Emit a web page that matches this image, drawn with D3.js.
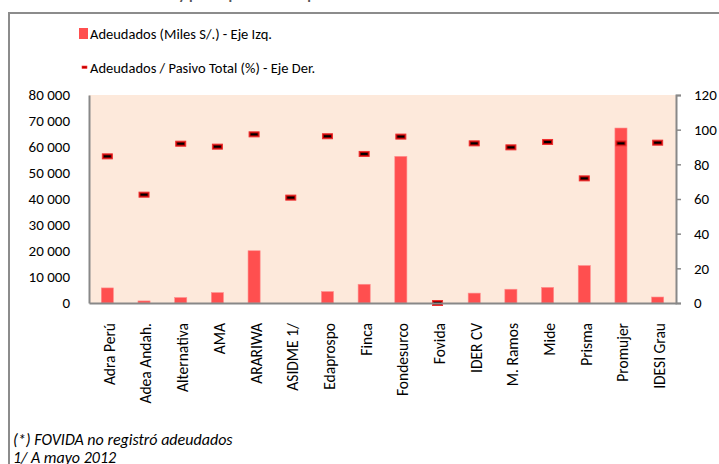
<!DOCTYPE html>
<html>
<meta charset="utf-8">
<head>
	<title>adeudados</title>
	<script src="https://cdn.jsdelivr.net/npm/d3@7/dist/d3.min.js" charset="utf-8"></script>
	<style>
		body { margin: 0; background: #fff; }
		text { font-family: Carlito, Lato, "Open Sans", sans-serif; fill: #000; }
	</style>
</head>
<body>
	<script type="text/javascript">
		var categories = ['Adra Perú', 'Adea Andah.', 'Alternativa', 'AMA', 'ARARIWA', 'ASIDME 1/', 'Edaprospo', 'Finca',
			'Fondesurco', 'Fovida', 'IDER CV', 'M. Ramos', 'Mide', 'Prisma', 'Promujer', 'IDESI Grau'];
		var adeudados = [5800, 800, 2100, 4000, 20100, 0, 4400, 7200, 56400, 0, 3800, 5300, 6000, 14400, 67300, 2300];
		var ratio = [84.6, 62.5, 91.9, 90.2, 97.3, 60.8, 96.2, 86.0, 96.0, 0, 92.1, 89.8, 92.9, 71.9, 92.1, 92.5];
		var leftTicks = [0, 10000, 20000, 30000, 40000, 50000, 60000, 70000, 80000];
		var rightTicks = [0, 20, 40, 60, 80, 100, 120];
		var legendLabels = ['Adeudados (Miles S/.) - Eje Izq.', 'Adeudados / Pasivo Total (%) - Eje Der.'];
		var notes = ['(*) FOVIDA no registró adeudados', '1/ A mayo 2012'];

		var W = 719, H = 464;
		var margin = {top: 95, right: 43, bottom: 161, left: 89},
			width = W - margin.left - margin.right,
			height = H - margin.top - margin.bottom;

		var svg = d3.select('body').append('svg')
			.attr('width', W)
			.attr('height', H);

		// title is cut off by the top edge, only its lowest pixels show
		svg.append('text').attr('x', 36).attr('y', -1)
			.style('font-size', '15px').style('font-weight', 'bold').style('fill', '#555')
			.text('Montos de adeudados y participación en el pasivo');
		svg.append('rect').attr('x', 9).attr('y', 13).attr('width', W).attr('height', 452)
			.attr('fill', 'none').attr('stroke', '#8c8c8c').attr('stroke-width', 2);

		var x = d3.scaleBand().domain(categories).range([0, width]).paddingInner(0.67).paddingOuter(0.335);
		var yL = d3.scaleLinear().domain([0, 80000]).range([height, 0]);
		var yR = d3.scaleLinear().domain([0, 120]).range([height, 0]);
		var fmt = function(d) { return d3.format(',')(d).replace(/,/g, ' '); };

		var g = svg.append('g').attr('transform', 'translate(' + margin.left + ',' + margin.top + ')');
		g.append('rect').attr('width', width).attr('height', height).attr('fill', '#fde9db');

		g.selectAll('.bar').data(adeudados).enter().append('rect')
			.attr('x', function(d, i) { return x(categories[i]); })
			.attr('y', function(d) { return yL(d); })
			.attr('width', x.bandwidth())
			.attr('height', function(d) { return height - yL(d); })
			.attr('fill', '#ff4f4f')
			.attr('stroke', '#ff8f8f').attr('stroke-width', 0.6);

		var mk = g.selectAll('.mk').data(ratio).enter().append('g')
			.attr('transform', function(d, i) {
				return 'translate(' + (x(categories[i]) + x.bandwidth() / 2) + ',' + yR(d) + ')';
			});
		mk.append('rect').attr('x', -5).attr('y', -2.5).attr('width', 10).attr('height', 5)
			.attr('fill', '#b00000').attr('stroke', '#f03030').attr('stroke-width', 1);
		mk.append('rect').attr('x', -3.5).attr('y', -1).attr('width', 7).attr('height', 2).attr('fill', '#000');

		// left axis
		var axL = g.append('g').call(d3.axisLeft(yL).tickValues(leftTicks).tickSize(0).tickPadding(19).tickFormat(fmt));
		axL.select('.domain').attr('stroke', '#888').attr('stroke-width', 2);
		axL.selectAll('text').style('font-size', '15px').attr('font-family', null);

		// right axis
		var axR = g.append('g').attr('transform', 'translate(' + width + ',0)')
			.call(d3.axisRight(yR).tickValues(rightTicks).tickSize(5).tickSizeOuter(5).tickPadding(13));
		axR.select('.domain').attr('stroke', '#888').attr('stroke-width', 2);
		axR.selectAll('line').attr('stroke', '#888').attr('stroke-width', 1.5);
		axR.selectAll('text').style('font-size', '15px').attr('font-family', null);

		// bottom axis, labels turned upright
		var axB = g.append('g').attr('transform', 'translate(0,' + height + ')')
			.call(d3.axisBottom(x).tickSize(0).tickPadding(0));
		axB.select('.domain').attr('stroke', '#888').attr('stroke-width', 2);
		axB.selectAll('text')
			.style('font-size', '15.5px').attr('font-family', null)
			.attr('text-anchor', 'end')
			.attr('transform', 'translate(2,20) rotate(-90)')
			.attr('x', 0).attr('y', 0).attr('dy', '0.35em');

		// legend
		var lg = svg.append('g');
		lg.append('rect').attr('x', 79).attr('y', 28).attr('width', 9).attr('height', 11).attr('fill', '#ff4f4f');
		lg.append('text').attr('x', 90).attr('y', 39).style('font-size', '14.5px').text(legendLabels[0]);
		lg.append('rect').attr('x', 82).attr('y', 66).attr('width', 5).attr('height', 2.5)
			.attr('fill', '#c00000').attr('stroke', '#ff3030').attr('stroke-width', 0.6);
		lg.append('text').attr('x', 90).attr('y', 73).style('font-size', '14.5px').text(legendLabels[1]);

		// footnotes
		svg.selectAll('.note').data(notes).enter().append('text')
			.attr('x', 13).attr('y', function(d, i) { return 445 + i * 18; })
			.style('font-size', '16px').style('font-style', 'italic')
			.text(function(d) { return d; });
	</script>
</body>
</html>
